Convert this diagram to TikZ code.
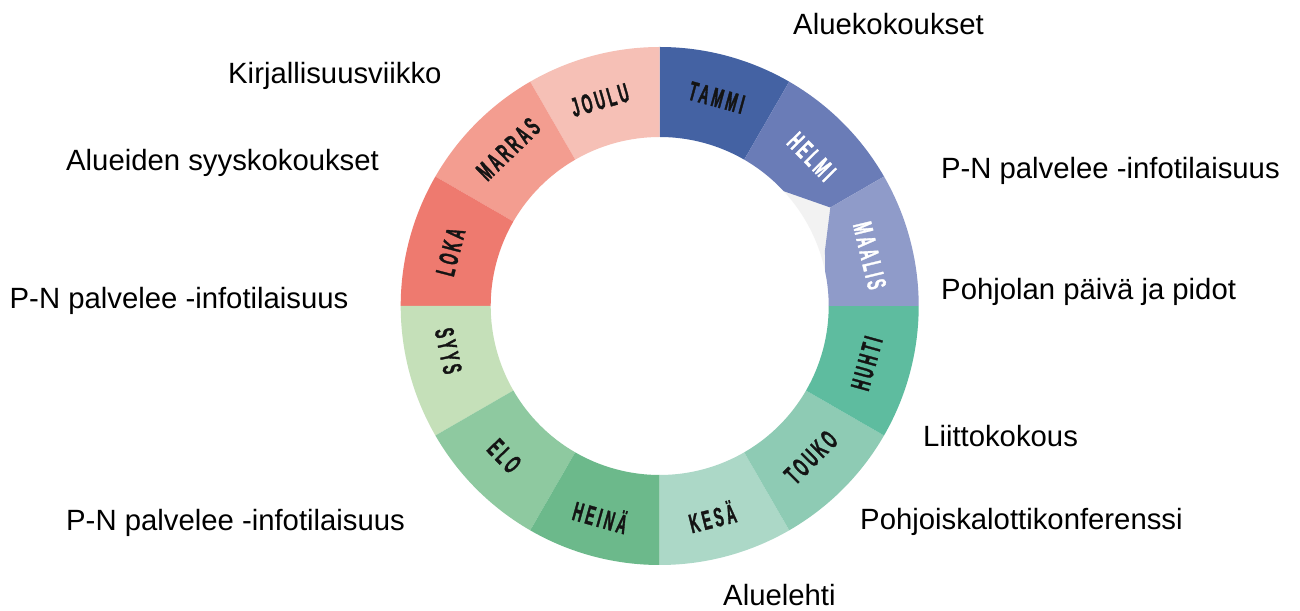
\documentclass[tikz,border=0pt]{standalone}
\usepackage{fontspec}
\setmainfont{Liberation Sans}
\newfontfamily\monthfont[FakeStretch=0.5,LetterSpace=12,FakeBold=1.2]{Liberation Sans}
\definecolor{ctammi}{HTML}{4462A3}
\definecolor{chelmi}{HTML}{6A7CB7}
\definecolor{cmaalis}{HTML}{8F9BC9}
\definecolor{chuhti}{HTML}{5EBC9F}
\definecolor{ctouko}{HTML}{8ECBB4}
\definecolor{ckesa}{HTML}{ACD8C7}
\definecolor{cheina}{HTML}{6CB98B}
\definecolor{celo}{HTML}{8EC9A0}
\definecolor{csyys}{HTML}{C5E0B9}
\definecolor{cloka}{HTML}{EE7A6F}
\definecolor{cmarras}{HTML}{F39D90}
\definecolor{cjoulu}{HTML}{F6C0B6}
\definecolor{cgap}{HTML}{F2F2F2}
\definecolor{monthdark}{HTML}{141414}
\begin{document}
\begin{tikzpicture}[
  evt/.style={anchor=base west, inner sep=0pt, font=\fontsize{29.3}{30}\selectfont, text=black},
  mon/.style={inner sep=0pt, font=\monthfont\bfseries\fontsize{27}{27}\selectfont, text=monthdark},
]
\useasboundingbox (0,0) rectangle (1300pt,610pt);
\fill[white] (0,0) rectangle (1300pt,610pt);
\begin{scope}[shift={(659.7pt,304pt)}]
  \foreach \a/\c [evaluate=\a as \b using \a+30] in {60/tammi, 90/joulu, 120/marras, 150/loka, 180/syys, 210/elo, 240/heina, 270/kesa, 300/touko, 330/huhti}
    \fill[c\c] (\a:169pt) arc[start angle=\a, end angle=\b, radius=169pt] -- (\b:259pt) arc[start angle=\b, end angle=\a, radius=259pt] -- cycle;
  % light grey gap between HELMI and MAALIS
  \fill[cgap] (10:169pt) arc[start angle=10, end angle=46, radius=169pt] -- (46:205pt) arc[start angle=46, end angle=10, radius=205pt] -- cycle;
  \fill[chelmi] (60:259pt) arc[start angle=60, end angle=30, radius=259pt] -- (30:197pt) -- (42.8:169pt) arc[start angle=42.8, end angle=60, radius=169pt] -- cycle;
  \fill[cmaalis] (30:259pt) arc[start angle=30, end angle=0, radius=259pt] -- (0:169pt) arc[start angle=0, end angle=12, radius=169pt] -- (18.7:174.5pt) -- (30:197pt) -- cycle;
  % month labels
  \node[mon, rotate=-15.3] (mtammi) at (74.7:216pt) {TAMMI};
  \node[mon, rotate=-45.5, text=white] (mhelmi) at (44.5:213pt) {HELMI};
  \node[mon, rotate=-76.5, text=white] (mmaalis) at (13.5:216pt) {MAALIS};
  \node[mon, rotate=74.5] (mhuhti) at (344.5:215pt) {HUHTI};
  \node[mon, rotate=45] (mtouko) at (315:214pt) {TOUKO};
  \node[mon, rotate=14] (mkesa) at (284:217pt) {KESÄ};
  \node[mon, rotate=-15.7] (mheina) at (254.3:218pt) {HEINÄ};
  \node[mon, rotate=-46] (melo) at (224:216pt) {ELO};
  \node[mon, rotate=-78] (msyys) at (192:216pt) {SYYS};
  \node[mon, rotate=75.5] (mloka) at (165.5:216pt) {LOKA};
  \node[mon, rotate=44] (mmarras) at (134:218pt) {MARRAS};
  \node[mon, rotate=16.2] (mjoulu) at (106.2:214.5pt) {JOULU};
\end{scope}
% event labels
\node[evt] (e1) at (793pt,575pt) {Aluekokoukset};
\node[evt] (e2) at (228pt,526.7pt) {Kirjallisuusviikko};
\node[evt] (e3) at (66pt,439.3pt) {Alueiden syyskokoukset};
\node[evt] (e4) at (9.5pt,301.7pt) {P-N palvelee -infotilaisuus};
\node[evt] (e5) at (940.8pt,431.7pt) {P-N palvelee -infotilaisuus};
\node[evt] (e6) at (941pt,310pt) {Pohjolan päivä ja pidot};
\node[evt] (e7) at (923pt,163.3pt) {Liittokokous};
\node[evt] (e8) at (860pt,80.7pt) {Pohjoiskalottikonferenssi};
\node[evt] (e9) at (723pt,5pt) {Aluelehti};
\node[evt] (e10) at (66pt,79.3pt) {P-N palvelee -infotilaisuus};
\end{tikzpicture}
\end{document}
